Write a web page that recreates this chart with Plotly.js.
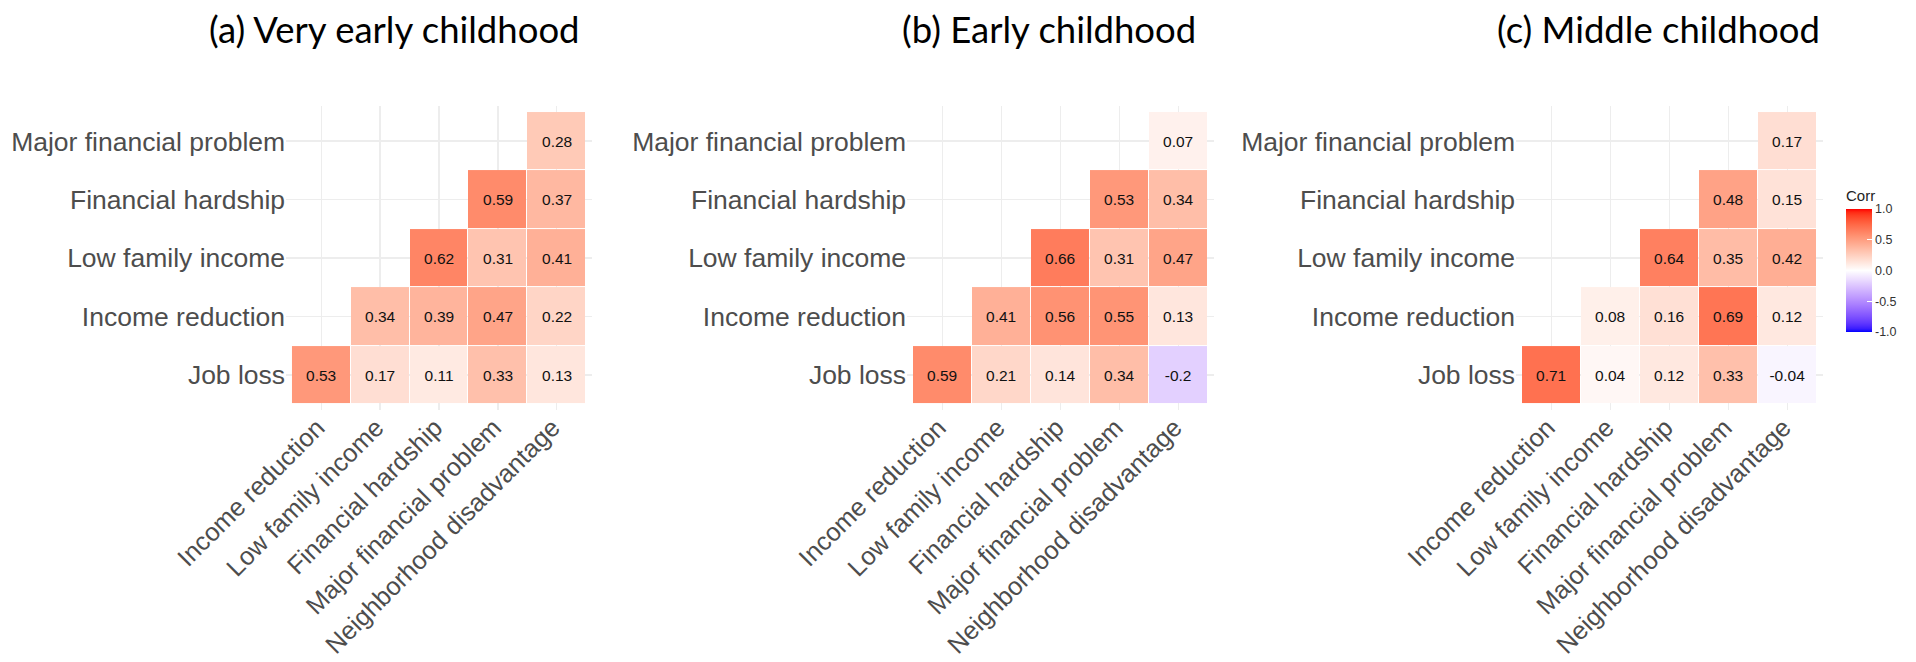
<!DOCTYPE html>
<html>
<head>
<meta charset="utf-8">
<script src="https://cdn.plot.ly/plotly-3.0.1.min.js"></script>
<style>
  html, body { margin: 0; padding: 0; background: #ffffff; }
  #chart { width: 1916px; height: 662px; }
</style>
</head>
<body>
<div id="chart"></div>
<script>
// Hardship indicators: columns (left to right) and rows (bottom to top)
const colVars = ["Income reduction", "Low family income", "Financial hardship",
                 "Major financial problem", "Neighborhood disadvantage"];
const rowVars = ["Job loss", "Income reduction", "Low family income",
                 "Financial hardship", "Major financial problem"];

const panelTitles = ["(a) Very early childhood", "(b) Early childhood", "(c) Middle childhood"];

// Lower-triangle correlations, one row per rowVars entry (null = not shown)
const corrVeryEarly = [
  [0.53, 0.17, 0.11, 0.33, 0.13],
  [null, 0.34, 0.39, 0.47, 0.22],
  [null, null, 0.62, 0.31, 0.41],
  [null, null, null, 0.59, 0.37],
  [null, null, null, null, 0.28]
];
const corrEarly = [
  [0.59, 0.21, 0.14, 0.34, -0.2],
  [null, 0.41, 0.56, 0.55, 0.13],
  [null, null, 0.66, 0.31, 0.47],
  [null, null, null, 0.53, 0.34],
  [null, null, null, null, 0.07]
];
const corrMiddle = [
  [0.71, 0.04, 0.12, 0.33, -0.04],
  [null, 0.08, 0.16, 0.69, 0.12],
  [null, null, 0.64, 0.35, 0.42],
  [null, null, null, 0.48, 0.15],
  [null, null, null, null, 0.17]
];

const legendTicks = [-1, -0.5, 0, 0.5, 1];
const legendTickText = ["-1.0", "-0.5", "0.0", "0.5", "1.0"];

// ---- diverging blue-white-red scale, interpolated in CIELAB ----
function toLinear(c) { c /= 255; return c <= 0.04045 ? c / 12.92 : Math.pow((c + 0.055) / 1.055, 2.4); }
function fromLinear(c) { const v = c <= 0.0031308 ? 12.92 * c : 1.055 * Math.pow(c, 1 / 2.4) - 0.055; return Math.round(Math.min(1, Math.max(0, v)) * 255); }
const WN = [0.95047, 1.0, 1.08883];
function rgbToLab(rgb) {
  const [r, g, b] = rgb.map(toLinear);
  const X = 0.4124564 * r + 0.3575761 * g + 0.1804375 * b;
  const Y = 0.2126729 * r + 0.7151522 * g + 0.0721750 * b;
  const Z = 0.0193339 * r + 0.1191920 * g + 0.9503041 * b;
  const f = t => t > 0.008856 ? Math.cbrt(t) : 7.787 * t + 16 / 116;
  const fx = f(X / WN[0]), fy = f(Y / WN[1]), fz = f(Z / WN[2]);
  return [116 * fy - 16, 500 * (fx - fy), 200 * (fy - fz)];
}
function labToRgb(lab) {
  const fy = (lab[0] + 16) / 116, fx = fy + lab[1] / 500, fz = fy - lab[2] / 200;
  const inv = t => t * t * t > 0.008856 ? t * t * t : (t - 16 / 116) / 7.787;
  const X = inv(fx) * WN[0], Y = inv(fy) * WN[1], Z = inv(fz) * WN[2];
  const r = 3.2404542 * X - 1.5371385 * Y - 0.4985314 * Z;
  const g = -0.9692660 * X + 1.8760108 * Y + 0.0415560 * Z;
  const b = 0.0556434 * X - 0.2040259 * Y + 1.0572252 * Z;
  return [fromLinear(r), fromLinear(g), fromLinear(b)];
}
const labLow = rgbToLab([0, 0, 255]), labMid = rgbToLab([255, 255, 255]), labHigh = rgbToLab([255, 0, 0]);
const corrScale = [];
const N = 40;
for (let i = 0; i <= N; i++) {
  const v = -1 + 2 * i / N;
  const end = v < 0 ? labLow : labHigh, t = Math.abs(v);
  const lab = labMid.map((m, k) => m + (end[k] - m) * t);
  const c = labToRgb(lab);
  corrScale.push([i / N, `rgb(${c[0]},${c[1]},${c[2]})`]);
}

// ---- panel geometry (paper fractions) ----
const W = 1916, H = 662;
const xDomains = [[286.1, 591.9], [907.1, 1213.9], [1516.1, 1822.9]];
const yDomain = [1 - 409.8 / H, 1 - 106.2 / H];
const titleX = [394, 1049, 1658];

const yTickFont = { family: "Liberation Sans, Arial, sans-serif", size: 26.5, color: "#4d4d4d" };
const xTickFont = { family: "Liberation Sans, Arial, sans-serif", size: 25.5, color: "#4d4d4d" };

const datasets = [corrVeryEarly, corrEarly, corrMiddle];
const traces = datasets.map((z, i) => ({
  type: "heatmap",
  x: colVars,
  y: rowVars,
  z: z,
  text: z.map(row => row.map(v => v === null ? "" : String(v))),
  texttemplate: "%{text}",
  textfont: { family: "Liberation Sans, Arial, sans-serif", size: 15.5, color: "#111111" },
  colorscale: corrScale,
  zmin: -1, zmax: 1,
  xgap: 1, ygap: 1,
  hoverongaps: false,
  xaxis: i === 0 ? "x" : "x" + (i + 1),
  yaxis: i === 0 ? "y" : "y" + (i + 1),
  showscale: i === 2,
  colorbar: {
    title: { text: "Corr", side: "top", font: { family: "Liberation Sans, Arial, sans-serif", size: 15, color: "#222222" } },
    x: 1846 / W, xanchor: "left",
    y: 1 - 187 / H, yanchor: "top",
    thickness: 26, thicknessmode: "pixels",
    len: 145, lenmode: "pixels",
    xpad: 0, ypad: 0,
    outlinewidth: 0,
    tickvals: legendTicks, ticktext: legendTickText,
    ticks: "inside", ticklen: 5, tickcolor: "#ffffff", tickwidth: 1,
    tickfont: { family: "Liberation Sans, Arial, sans-serif", size: 12.5, color: "#333333" }
  }
}));

const layout = {
  width: W, height: H,
  margin: { l: 0, r: 0, t: 0, b: 0 },
  paper_bgcolor: "#ffffff",
  plot_bgcolor: "#ffffff",
  showlegend: false,
  annotations: titleX.map((x, i) => ({
    text: panelTitles[i], xref: "paper", yref: "paper",
    x: x / W, y: 1 - 29 / H, xanchor: "center", yanchor: "middle",
    showarrow: false,
    font: { family: "Lato, 'Open Sans', sans-serif", size: 36.5, color: "#000000" }
  }))
};

for (let i = 0; i < 3; i++) {
  const sx = i === 0 ? "" : String(i + 1);
  layout["xaxis" + sx] = {
    domain: [xDomains[i][0] / W, xDomains[i][1] / W],
    anchor: "y" + sx,
    type: "category", categoryorder: "array", categoryarray: colVars,
    range: [-0.6, 4.6], fixedrange: true,
    showgrid: true, gridcolor: "#ededed", gridwidth: 1.5,
    zeroline: false, showline: false, ticks: "",
    tickangle: -45, tickfont: xTickFont, automargin: false,
    ticklabelstandoff: -3, ticklabelshift: -4
  };
  layout["yaxis" + sx] = {
    domain: yDomain,
    anchor: "x" + sx,
    type: "category", categoryorder: "array", categoryarray: rowVars,
    range: [-0.6, 4.6], fixedrange: true,
    showgrid: true, gridcolor: "#ededed", gridwidth: 1.5,
    zeroline: false, showline: false, ticks: "",
    tickfont: yTickFont, automargin: false
  };
}

Plotly.newPlot("chart", traces, layout, { staticPlot: true, displayModeBar: false });
</script>
</body>
</html>
